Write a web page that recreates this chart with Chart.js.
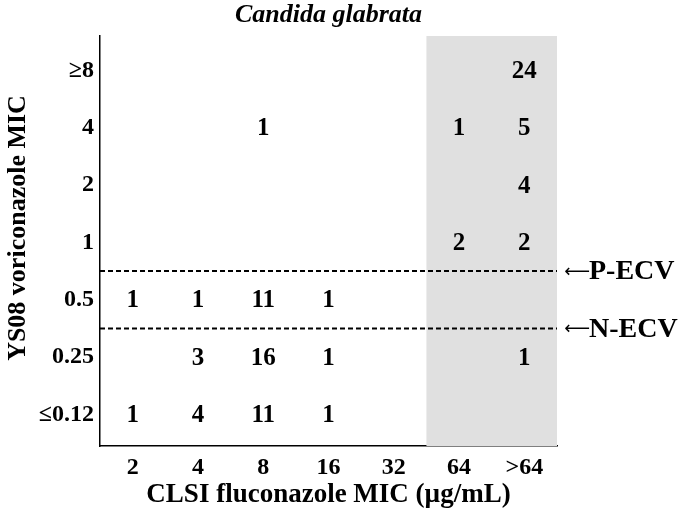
<!DOCTYPE html>
<html>
<head>
<meta charset="utf-8">
<script src="https://cdn.jsdelivr.net/npm/chart.js@4.4.1/dist/chart.umd.min.js"></script>
<style>
  html, body { margin: 0; padding: 0; background: #ffffff; }
  #wrap { width: 680px; height: 516px; }
</style>
</head>
<body>
<div id="wrap"><canvas id="c" width="680" height="516"></canvas></div>
<script>
// ---- Data ----
const fluconazoleMIC = ['2', '4', '8', '16', '32', '64', '>64'];
const voriconazoleMIC = ['≤0.12', '0.25', '0.5', '1', '2', '4', '≥8'];

// counts per fluconazole column, one array per voriconazole row
const row_le012 = [1, 4, 11, 1, null, null, null];
const row_025   = [null, 3, 16, 1, null, null, 1];
const row_05    = [1, 1, 11, 1, null, null, null];
const row_1     = [null, null, null, null, null, 2, 2];
const row_2     = [null, null, null, null, null, null, 4];
const row_4     = [null, null, 1, null, null, 1, 5];
const row_ge8   = [null, null, null, null, null, null, 24];
const rows = [row_le012, row_025, row_05, row_1, row_2, row_4, row_ge8];

// cutoff lines (between voriconazole categories)
const ecvLabels = ['P-ECV', 'N-ECV'];
const ecvBetween = [['0.5', '1'], ['0.25', '0.5']];
// resistant (shaded) fluconazole columns
const shadedColumns = ['64', '>64'];

const chartTitle = 'Candida glabrata';
const yTitle = 'YS08 voriconazole MIC';
const xTitle = 'CLSI fluconazole MIC (µg/mL)';

// ---- Build points ----
const cellPoints = [];
rows.forEach((r, yi) => r.forEach((v, xi) => {
  if (v !== null) cellPoints.push({ x: xi, y: yi, v: v });
}));
const ecvY = ecvBetween.map(p => (voriconazoleMIC.indexOf(p[0]) + voriconazoleMIC.indexOf(p[1])) / 2);
const xMin = -0.5, xMax = fluconazoleMIC.length - 0.5;

const FONT = "'Liberation Serif', 'Times New Roman', serif";

const ecvDatasets = ecvY.map((y, i) => ({
  type: 'line',
  label: ecvLabels[i],
  data: [{ x: xMin, y: y }, { x: xMax, y: y }],
  borderColor: '#000',
  borderWidth: 2,
  borderDash: [5, 3],
  pointRadius: 0,
  fill: false
}));

const shadePlugin = {
  id: 'shade',
  beforeDatasetsDraw(chart) {
    const { ctx, chartArea, scales } = chart;
    const i0 = fluconazoleMIC.indexOf(shadedColumns[0]);
    const i1 = fluconazoleMIC.indexOf(shadedColumns[shadedColumns.length - 1]);
    const x0 = scales.x.getPixelForValue(i0 - 0.5);
    const x1 = scales.x.getPixelForValue(i1 + 0.5);
    ctx.save();
    ctx.fillStyle = '#e0e0e0';
    ctx.fillRect(x0, chartArea.top, x1 - x0, chartArea.bottom - chartArea.top);
    ctx.restore();
  }
};

const labelPlugin = {
  id: 'cellLabels',
  afterDatasetsDraw(chart) {
    const { ctx, chartArea, scales } = chart;
    ctx.save();
    ctx.fillStyle = '#000';
    ctx.textAlign = 'center';
    ctx.textBaseline = 'middle';
    ctx.font = 'bold 25px ' + FONT;
    const ds = chart.data.datasets[0];
    ds.data.forEach(p => {
      ctx.fillText(String(p.v), scales.x.getPixelForValue(p.x), scales.y.getPixelForValue(p.y) + 1);
    });
    // ECV labels
    ecvY.forEach((y, i) => {
      const py = scales.y.getPixelForValue(y);
      const x = chartArea.right + 32;
      ctx.textAlign = 'left';
      ctx.font = 'bold 28px ' + FONT;
      ctx.fillText(ecvLabels[i], x, py + 1);
      ctx.textAlign = 'right';
      ctx.font = "18px 'DejaVu Sans'";
      ctx.fillText('⟵', x + 1, py + 1);
    });
    // Chart title, centred over the plot area
    ctx.textAlign = 'center';
    ctx.textBaseline = 'alphabetic';
    ctx.font = 'italic bold 26px ' + FONT;
    ctx.fillText(chartTitle, (chartArea.left + chartArea.right) / 2, 22);
    // Y axis title
    ctx.save();
    ctx.translate(18, (chartArea.top + chartArea.bottom) / 2 - 13);
    ctx.rotate(-Math.PI / 2);
    ctx.textAlign = 'center';
    ctx.textBaseline = 'middle';
    ctx.font = 'bold 26px ' + FONT;
    ctx.fillText(yTitle, 0, 0);
    ctx.restore();
    ctx.restore();
  }
};

new Chart(document.getElementById('c'), {
  type: 'scatter',
  data: {
    datasets: [
      { label: 'counts', data: cellPoints, pointRadius: 0, pointHoverRadius: 0, showLine: false },
      ...ecvDatasets
    ]
  },
  options: {
    responsive: false,
    animation: false,
    devicePixelRatio: 1,
    layout: { padding: { top: 36, right: 123, bottom: 0, left: 0 } },
    plugins: {
      legend: { display: false },
      tooltip: { enabled: false },
      title: { display: false }
    },
    scales: {
      x: {
        type: 'linear',
        min: xMin,
        max: xMax,
        afterBuildTicks(s) { s.ticks = fluconazoleMIC.map((_, i) => ({ value: i })); },
        afterFit(s) { s.height = 70; },
        grid: { display: false, drawTicks: false },
        border: { display: true, color: '#000', width: 1.5 },
        ticks: {
          color: '#000',
          padding: 7,
          maxRotation: 0,
          autoSkip: false,
          font: { family: FONT, size: 24, weight: 'bold' },
          callback: (v) => fluconazoleMIC[v]
        },
        title: {
          display: true,
          text: xTitle,
          color: '#000',
          font: { family: FONT, size: 27, weight: 'bold' },
          padding: { top: 0, bottom: 5 }
        }
      },
      y: {
        type: 'linear',
        min: -0.55,
        max: 6.6,
        afterBuildTicks(s) { s.ticks = voriconazoleMIC.map((_, i) => ({ value: i })); },
        afterFit(s) { s.width = 100; },
        grid: { display: false, drawTicks: false },
        border: { display: true, color: '#000', width: 1.5 },
        ticks: {
          color: '#000',
          padding: 6,
          autoSkip: false,
          font: { family: FONT, size: 24, weight: 'bold' },
          callback: (v) => voriconazoleMIC[v]
        },
        title: { display: false }
      }
    }
  },
  plugins: [shadePlugin, labelPlugin]
});
</script>
</body>
</html>
